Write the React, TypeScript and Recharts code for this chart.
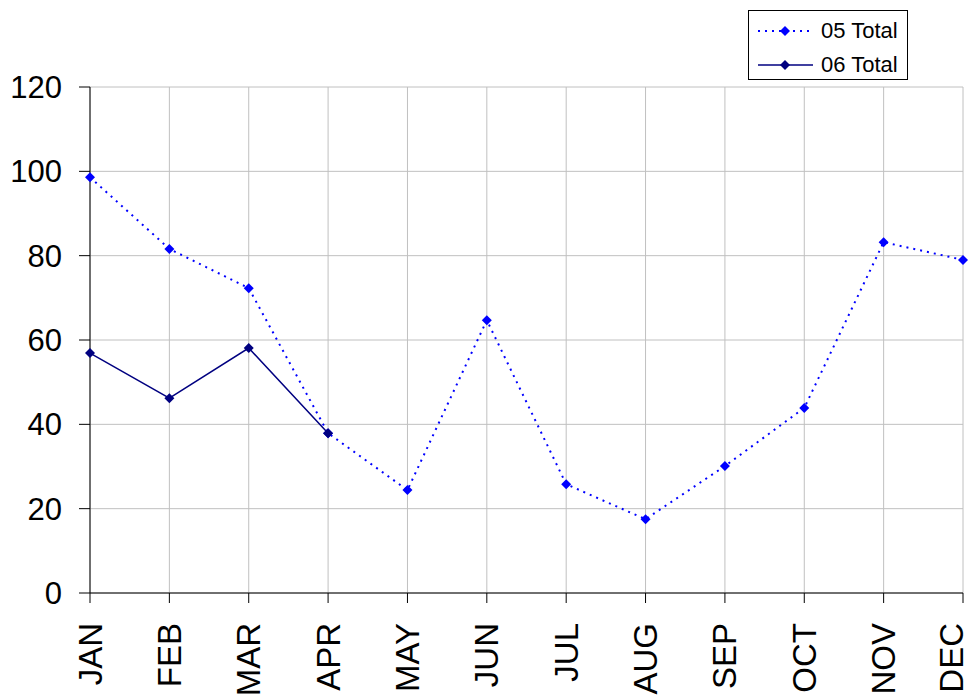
import { LineChart, Line, XAxis, YAxis, CartesianGrid } from 'recharts'

const months = ['JAN', 'FEB', 'MAR', 'APR', 'MAY', 'JUN', 'JUL', 'AUG', 'SEP', 'OCT', 'NOV', 'DEC']
const total05 = [98.6, 81.6, 72.3, 37.9, 24.4, 64.7, 25.8, 17.5, 30.1, 43.9, 83.2, 79.0]
const total06: (number | null)[] = [56.9, 46.2, 58.1, 37.9, null, null, null, null, null, null, null, null]
const yTicks = [0, 20, 40, 60, 80, 100, 120]

const data = months.map((m, i) => ({ month: m, t05: total05[i], t06: total06[i] }))

const FONT = '"Liberation Sans", Arial, sans-serif'
const BLUE = '#0000ff'
const NAVY = '#000080'

function Diamond(props: any) {
  const { cx, cy, fill } = props
  if (cx == null || cy == null || props.value == null) return null
  const r = 5
  return <polygon points={`${cx},${cy - r} ${cx + r},${cy} ${cx},${cy + r} ${cx - r},${cy}`} fill={fill} />
}

function MonthTick(props: any) {
  const { x, y, payload, index } = props
  // keep the last label inside the right edge
  const shift = index === months.length - 1 ? -12 : 0
  return (
    <g transform={`translate(${x + shift},${y})`}>
      <text
        transform="rotate(-90)"
        x={-20}
        y={0}
        dy="0.35em"
        textAnchor="end"
        fontFamily={FONT}
        fontSize={33}
        fill="#000"
      >
        {payload.value}
      </text>
    </g>
  )
}

function LegendBox() {
  const row = (label: string, color: string, dash?: string) => (
    <div style={{ display: 'flex', alignItems: 'center', height: 34 }}>
      <svg width={58} height={14} style={{ marginLeft: 8 }}>
        <line x1={1} y1={7} x2={56} y2={7} stroke={color} strokeWidth={dash ? 2 : 1.5} strokeDasharray={dash} />
        <polygon points="28,2 33,7 28,12 23,7" fill={color} />
      </svg>
      <span style={{ fontFamily: FONT, fontSize: 22, marginLeft: 6 }}>{label}</span>
    </div>
  )
  return (
    <div
      style={{
        position: 'absolute',
        left: 748,
        top: 10,
        border: '1px solid #000',
        background: '#fff',
        width: 160,
        height: 70,
        paddingTop: 3,
        boxSizing: 'border-box',
      }}
    >
      {row('05 Total', BLUE, '2 5')}
      {row('06 Total', NAVY)}
    </div>
  )
}

export default function App() {
  return (
    <div style={{ position: 'absolute', left: 0, top: 0, width: 970, height: 700, background: '#fff' }}>
      <LineChart width={970} height={700} data={data} margin={{ top: 87, right: 7, left: 0, bottom: 0 }}>
        <CartesianGrid stroke="#c0c0c0" strokeWidth={1} />
        <XAxis
          dataKey="month"
          height={107}
          interval={0}
          tickSize={10}
          tickMargin={0}
          stroke="#000"
          tick={<MonthTick />}
          padding={{ left: 0, right: 0 }}
        />
        <YAxis
          width={90}
          domain={[0, 120]}
          ticks={yTicks}
          tickSize={11}
          tickMargin={17}
          stroke="#000"
          tick={{ fontFamily: FONT, fontSize: 31, fill: '#000' }}
          interval={0}
        />
        <Line
          type="linear"
          dataKey="t05"
          stroke={BLUE}
          strokeWidth={2}
          strokeDasharray="2 5"
          dot={<Diamond fill={BLUE} />}
          activeDot={false}
          isAnimationActive={false}
        />
        <Line
          type="linear"
          dataKey="t06"
          stroke={NAVY}
          strokeWidth={1.5}
          dot={<Diamond fill={NAVY} />}
          activeDot={false}
          connectNulls={false}
          isAnimationActive={false}
        />
      </LineChart>
      <LegendBox />
    </div>
  )
}
